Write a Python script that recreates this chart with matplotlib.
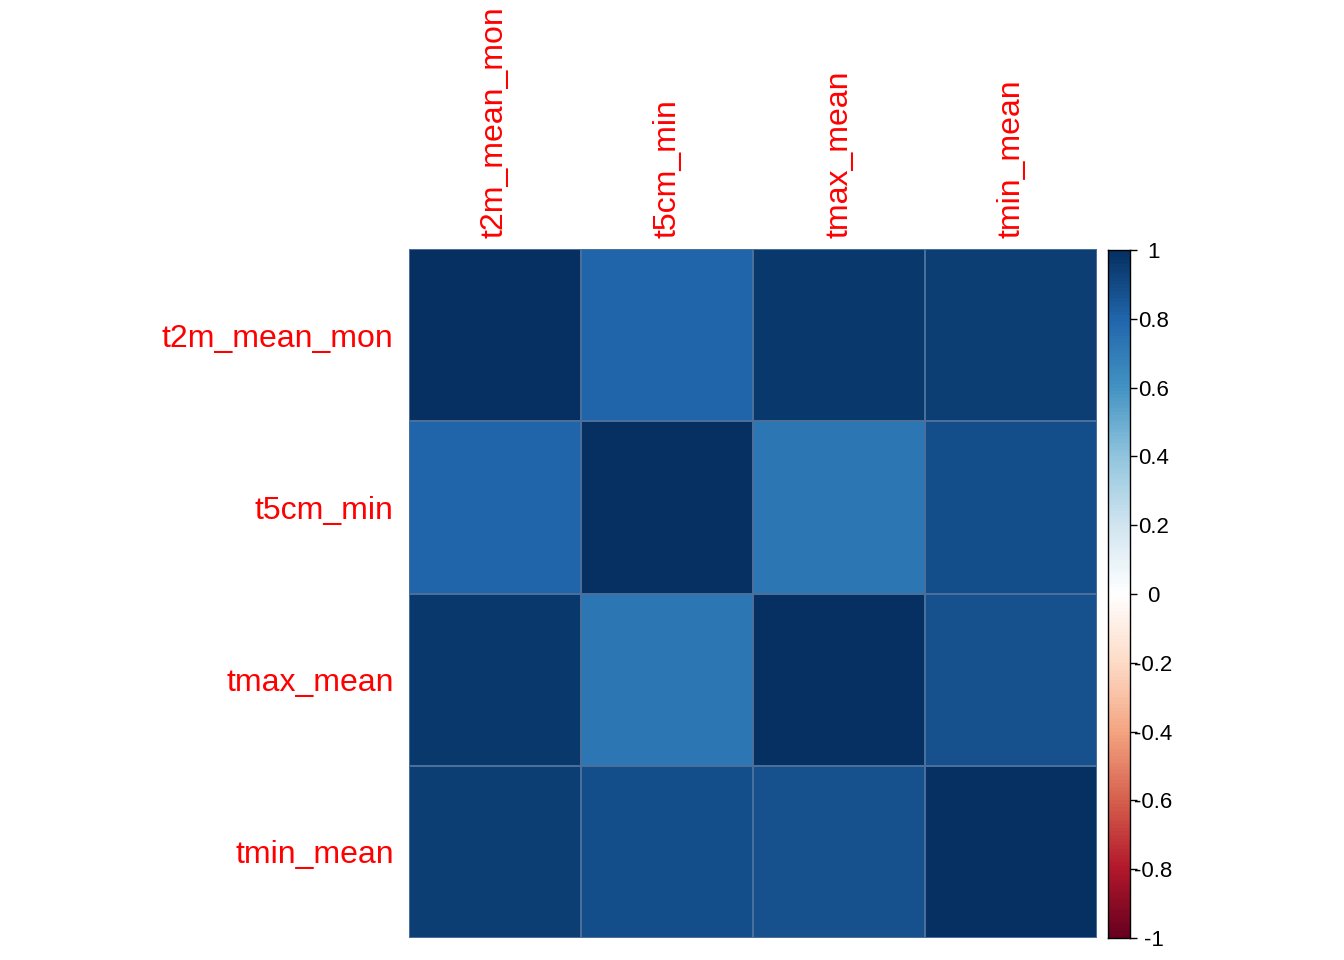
import numpy as np
import matplotlib
matplotlib.use("Agg")
import matplotlib.pyplot as plt
from matplotlib.colors import LinearSegmentedColormap

plt.rcParams["font.family"] = ["Liberation Sans", "DejaVu Sans"]

variables = ["t2m_mean_mon", "t5cm_min", "tmax_mean", "tmin_mean"]
corr = np.array([
    [1.00, 0.80, 0.96, 0.94],
    [0.80, 1.00, 0.72, 0.88],
    [0.96, 0.72, 1.00, 0.87],
    [0.94, 0.88, 0.87, 1.00],
])
cbar_ticks = [-1, -0.8, -0.6, -0.4, -0.2, 0, 0.2, 0.4, 0.6, 0.8, 1]

# corrplot's RdBu palette
rdbu = ["#67001F", "#B2182B", "#D6604D", "#F4A582", "#FDDBC7", "#FFFFFF",
        "#D1E5F0", "#92C5DE", "#4393C3", "#2166AC", "#053061"]
cmap = LinearSegmentedColormap.from_list("corr", rdbu, N=200)

W, H = 1344, 960
fig = plt.figure(figsize=(W / 100, H / 100), dpi=100)


def px_axes(x0, y0, x1, y1):
    return fig.add_axes([x0 / W, 1 - y1 / H, (x1 - x0) / W, (y1 - y0) / H])


ax = px_axes(409, 249, 1097, 938)
n = len(variables)
ax.pcolormesh(np.arange(n + 1), np.arange(n + 1), corr, cmap=cmap,
              vmin=-1, vmax=1, edgecolor="#4a6f9a", linewidth=0.1)
ax.set_xlim(0, n)
ax.set_ylim(n, 0)
for s in ax.spines.values():
    s.set_visible(False)
ax.set_xticks(np.arange(n) + 0.5)
ax.set_yticks(np.arange(n) + 0.5)
ax.xaxis.tick_top()
ax.set_xticklabels(variables, rotation=90, color="red", fontsize=23)
ax.set_yticklabels(variables, color="red", fontsize=23)
ax.tick_params(axis="y", length=0, pad=11)
ax.tick_params(axis="x", length=0, pad=8)

cax = px_axes(1108, 250, 1130, 938)
grad = np.linspace(-1, 1, 200).reshape(-1, 1)
cax.pcolormesh([0, 1], np.linspace(-1, 1, 201), grad, cmap=cmap, vmin=-1, vmax=1)
cax.set_xlim(0, 1)
cax.set_ylim(-1, 1)
cax.set_xticks([])
cax.yaxis.tick_right()
cax.set_yticks(cbar_ticks)
cax.set_yticklabels([f"{t:g}" for t in cbar_ticks], fontsize=16, ha="center")
cax.tick_params(axis="y", length=5, width=1, pad=12)
for s in cax.spines.values():
    s.set_linewidth(1)

fig.savefig("out.png", dpi=100)
